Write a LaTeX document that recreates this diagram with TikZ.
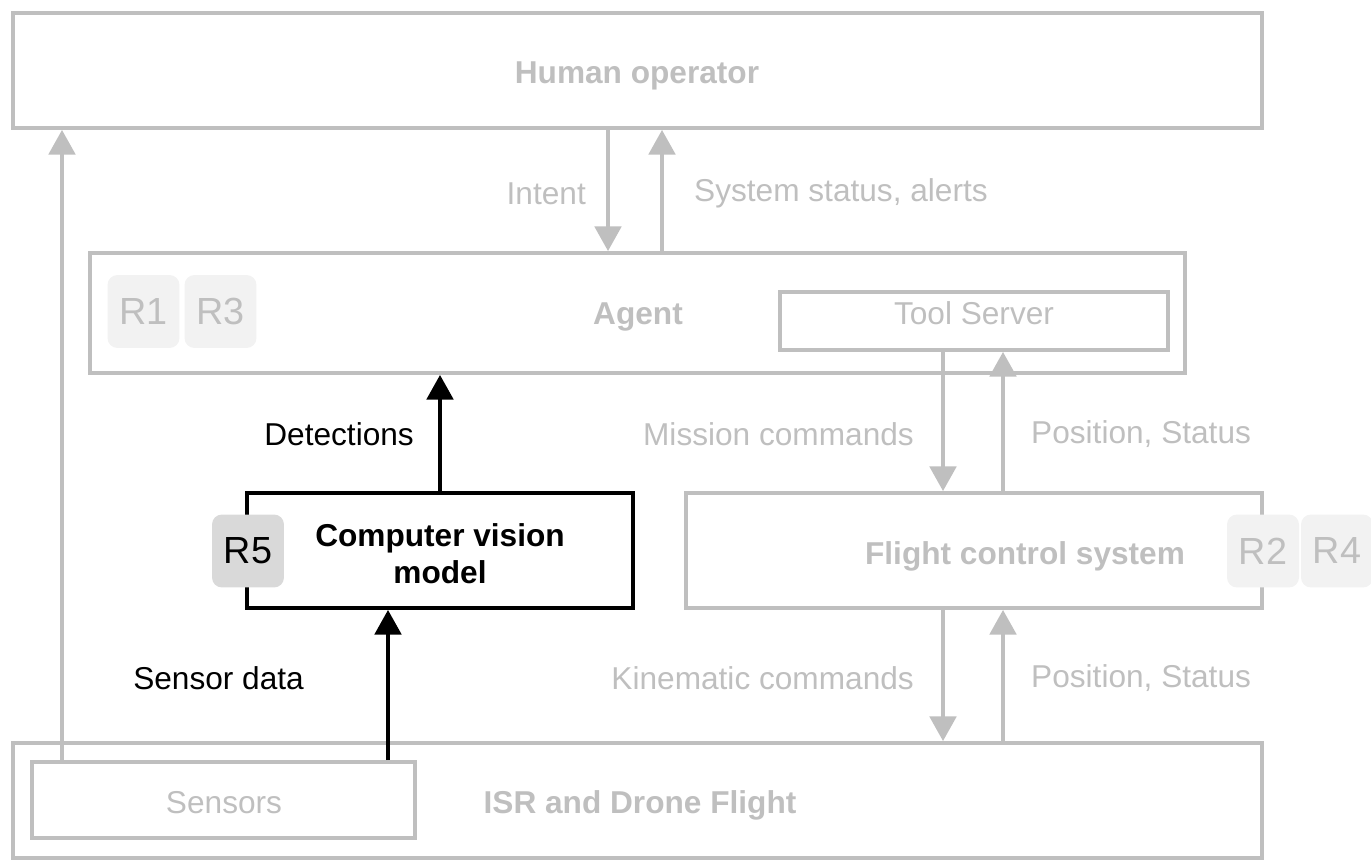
\documentclass[tikz,border=0pt]{standalone}
\usepackage{fontspec}
\setmainfont{Liberation Sans}
\usepackage{tikz}
\usetikzlibrary{arrows.meta, positioning, fit}

\definecolor{lgray}{RGB}{191,191,191}
\definecolor{badgelight}{RGB}{242,242,242}
\definecolor{badgedark}{RGB}{217,217,217}

\begin{document}
\begin{tikzpicture}[x=0.02cm, y=-0.02cm, font=\fontsize{18}{21}\selectfont,
    >={Triangle[length=14pt, width=15pt]},
    box/.style={draw=lgray, line width=2.2pt, inner sep=0pt},
    kbox/.style={draw=black, line width=2.2pt, inner sep=0pt},
    bold/.style={font=\fontsize{18}{21}\selectfont\bfseries},
    badge/.style={fill=badgelight, text=lgray, rounded corners=0.2cm,
      minimum width=1.44cm, minimum height=1.46cm, inner sep=0pt,
      font=\fontsize{21.5}{25}\selectfont},
    darkbadge/.style={badge, fill=badgedark, text=black},
    garrow/.style={->, draw=lgray, line width=2.2pt},
    karrow/.style={->, draw=black, line width=2.2pt},
    glabel/.style={text=lgray}]
  \useasboundingbox (0,0) rectangle (1371,861);
  % boxes
  \node[box, fit={(13,13) (1262,128)}] (human) {};
  \node[box, fit={(90,253) (1185,373)}] (agent) {};
  \node[box, fit={(780,292) (1168,350)}] (tools) {};
  \node[kbox, fit={(247,493) (633,608)}] (cv) {};
  \node[box, fit={(686,493) (1262,608)}] (fcs) {};
  \node[box, fit={(13,743) (1262,858)}] (isr) {};
  \node[box, fit={(32,762) (415,838)}] (sensors) {};
  % box texts
  \node[glabel, bold, anchor=base] (humantxt) at (637,84) {Human operator};
  \node[glabel, bold, anchor=base] (agenttxt) at (638,324) {Agent};
  \node[glabel, anchor=base] (toolstxt) at (974,324) {Tool Server};
  \node[bold, align=center] (cvtxt) at (440,554) {Computer vision\\model};
  \node[glabel, bold, anchor=base] (fcstxt) at (1025,564) {Flight control system};
  \node[glabel, bold, anchor=base] (isrtxt) at (640,813) {ISR and Drone Flight};
  \node[glabel, anchor=base] (sensorstxt) at (224,813) {Sensors};
  % requirement badges
  \node[badge] (r1) at (143.5,311.5) {R1};
  \node[badge] (r3) at (220.5,311.5) {R3};
  \node[darkbadge] (r5) at (248,551) {R5};
  \node[badge] (r2) at (1263,551) {R2};
  \node[badge] (r4) at (1337,551) {R4};
  % arrow columns
  \coordinate (xleft) at (62,0);
  \coordinate (xintent) at (608,0);
  \coordinate (xstatus) at (662,0);
  \coordinate (xsens) at (388,0);
  \coordinate (xdown) at (943,0);
  \coordinate (xup) at (1003,0);
  % connectors
  \draw[garrow] (sensors.north -| xleft) -- (human.south -| xleft);
  \draw[garrow] (human.south -| xintent) -- (agent.north -| xintent);
  \draw[garrow] (agent.north -| xstatus) -- (human.south -| xstatus);
  \draw[karrow] (cv.north) -- (cv.north |- agent.south);
  \draw[karrow] (sensors.north -| xsens) -- (cv.south -| xsens);
  \draw[garrow] (tools.south -| xdown) -- (fcs.north -| xdown);
  \draw[garrow] (fcs.north -| xup) -- (tools.south -| xup);
  \draw[garrow] (fcs.south -| xdown) -- (isr.north -| xdown);
  \draw[garrow] (isr.north -| xup) -- (fcs.south -| xup);
  % labels
  \node[glabel, anchor=east] (intent) at (592,194) {Intent};
  \node[glabel, anchor=west] (status) at (688,193) {System status, alerts};
  \node[anchor=east] (detections) at (420,434) {Detections};
  \node[anchor=east] (sensordata) at (310,678) {Sensor data};
  \node[glabel, anchor=east] (mission) at (920,434) {Mission commands};
  \node[glabel, anchor=west] (posup) at (1025,434) {Position, Status};
  \node[glabel, anchor=east] (kinematic) at (920,678) {Kinematic commands};
  \node[glabel, anchor=west] (poslow) at (1025,678) {Position, Status};
\end{tikzpicture}
\end{document}
